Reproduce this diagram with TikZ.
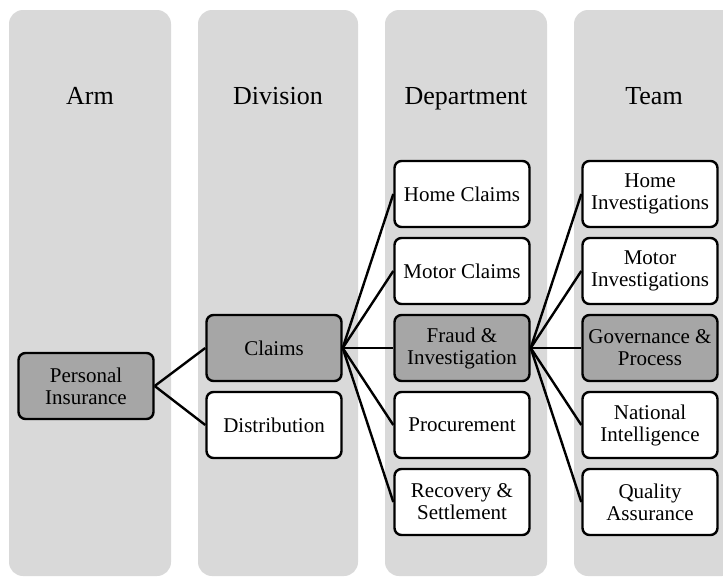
\documentclass[tikz,border=0pt]{standalone}
\usepackage{fontspec}
\setmainfont{Liberation Serif}
\definecolor{bandgrey}{HTML}{D9D9D9}
\definecolor{boxgrey}{HTML}{A6A6A6}
\begin{document}
\begin{tikzpicture}[x=1pt,y=-1pt,
  band/.style={fill=bandgrey, rounded corners=14pt},
  box/.style={draw=black, line width=2.4pt, rounded corners=7pt, minimum width=135pt, minimum height=66pt, align=center, inner sep=0pt, font=\fontsize{21}{22}\selectfont, fill=white},
  hl/.style={box, fill=boxgrey},
  head/.style={font=\fontsize{26}{28}\selectfont, inner sep=0pt, anchor=base},
  link/.style={draw=black, line width=2.4pt}]
\clip (0,0) rectangle (723,576);
\fill[band] (9,10) rectangle (171,576);
\fill[band] (198,10) rectangle (358,576);
\fill[band] (385,10) rectangle (547,576);
\fill[band] (574,10) rectangle (736,576);
\node[head] (harm) at (90,104) {Arm};
\node[head] (hdiv) at (278,104) {Division};
\node[head] (hdep) at (466,104) {Department};
\node[head] (hteam) at (654,104) {Team};
\node[hl] (pi) at (86,386) {Personal\\Insurance};
\node[hl] (claims) at (274,348) {Claims};
\node[box] (dist) at (274,425) {Distribution};
\node[box] (home) at (462,194) {Home Claims};
\node[box] (motor) at (462,271) {Motor Claims};
\node[hl] (fraud) at (462,348) {Fraud \&\\Investigation};
\node[box] (proc) at (462,425) {Procurement};
\node[box] (recov) at (462,502) {Recovery \&\\Settlement};
\node[box] (hinv) at (650,194) {Home\\Investigations};
\node[box] (minv) at (650,271) {Motor\\Investigations};
\node[hl] (gov) at (650,348) {Governance \&\\Process};
\node[box] (nat) at (650,425) {National\\Intelligence};
\node[box] (qa) at (650,502) {Quality\\Assurance};
\draw[link] (pi.east) -- (claims.west);
\draw[link] (pi.east) -- (dist.west);
\foreach \t in {home,motor,fraud,proc,recov}
  \draw[link] (claims.east) -- (\t.west);
\foreach \t in {hinv,minv,gov,nat,qa}
  \draw[link] (fraud.east) -- (\t.west);
\end{tikzpicture}
\end{document}
